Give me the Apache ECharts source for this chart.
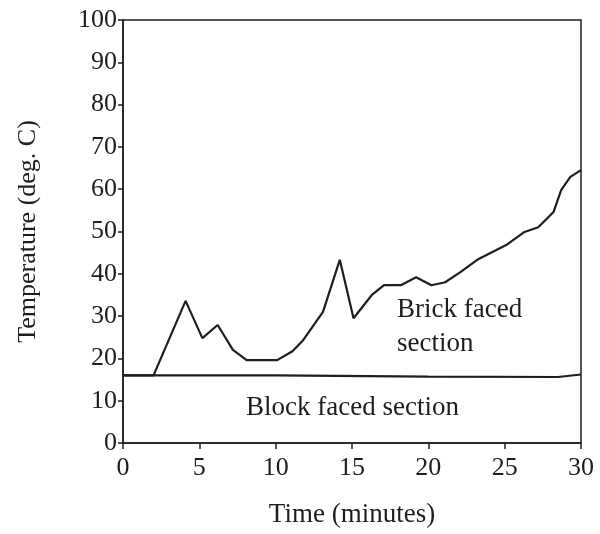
<!DOCTYPE html>
<html>
<head>
<meta charset="utf-8">
<script src="https://cdn.jsdelivr.net/npm/echarts@6/dist/echarts.min.js"></script>
<style>
  html, body { margin: 0; padding: 0; background: #fff; }
  #chart { width: 600px; height: 534px; }
</style>
</head>
<body>
<div id="chart"></div>
<script>
// brick faced section (minutes, deg. C)
const brickTime = [0, 2, 4.1, 5.2, 6.2, 7.2, 8.1, 10.1, 11.1, 11.8, 13.1, 14.2, 15.1, 16.3, 17.1, 18.2, 19.2, 20.2, 21.1, 22.1, 23.2, 25.1, 26.3, 27.2, 28.2, 28.7, 29.3, 30]
const brickTemp = [16, 16, 33.6, 24.8, 27.9, 22, 19.6, 19.6, 21.7, 24.3, 31, 43.3, 29.5, 35, 37.3, 37.3, 39.2, 37.3, 38, 40.4, 43.3, 46.8, 49.9, 51, 54.6, 59.8, 62.9, 64.5]
// block faced section
const blockTime = [0, 10, 20, 28.5, 30]
const blockTemp = [16, 16, 15.7, 15.6, 16.2]
const yTicks = [0, 10, 20, 30, 40, 50, 60, 70, 80, 90, 100]
const xTicks = [0, 5, 10, 15, 20, 25, 30]

const zip = (xs, ys) => xs.map((x, i) => [x, ys[i]])

const font = "Liberation Serif, DejaVu Serif, serif"
const ink = "#1e1e1e"

const chart = echarts.init(document.getElementById("chart"))

const option = {
  animation: false,
  backgroundColor: "#fff",
  grid: {
    left: 123,
    right: 19,
    top: 20,
    bottom: 91,
    show: true,
    borderColor: ink,
    borderWidth: 1.5,
  },
  xAxis: {
    type: "value",
    min: xTicks[0],
    max: xTicks[xTicks.length - 1],
    interval: 5,
    name: "Time (minutes)",
    nameLocation: "middle",
    nameGap: 58,
    nameTextStyle: { fontFamily: font, fontSize: 27, color: ink },
    axisLine: { lineStyle: { color: ink, width: 1.5 } },
    axisTick: { lineStyle: { color: ink, width: 1.5 }, length: 6 },
    axisLabel: { fontFamily: font, fontSize: 26, color: ink, margin: 12 },
    splitLine: { show: false },
  },
  yAxis: {
    type: "value",
    min: yTicks[0],
    max: yTicks[yTicks.length - 1],
    interval: 10,
    name: "Temperature (deg. C)",
    nameLocation: "middle",
    nameGap: 82,
    nameTextStyle: { fontFamily: font, fontSize: 26, color: ink },
    axisLine: { lineStyle: { color: ink, width: 1.5 } },
    axisTick: { lineStyle: { color: ink, width: 1.5 }, length: 5 },
    axisLabel: { fontFamily: font, fontSize: 26, color: ink, margin: 6 },
    splitLine: { show: false },
  },
  series: [
    {
      name: "Brick faced section",
      type: "line",
      data: zip(brickTime, brickTemp),
      symbol: "none",
      lineStyle: { color: ink, width: 2.2 },
    },
    {
      name: "Block faced section",
      type: "line",
      data: zip(blockTime, blockTemp),
      symbol: "none",
      lineStyle: { color: ink, width: 2.2 },
    },
  ],
  graphic: [
    {
      type: "text",
      left: 397,
      top: 293,
      style: {
        text: "Brick faced\nsection",
        font: "27px " + font,
        lineHeight: 34,
        fill: ink,
      },
    },
    {
      type: "text",
      left: 246,
      top: 394,
      style: {
        text: "Block faced section",
        font: "27px " + font,
        fill: ink,
      },
    },
  ],
}

chart.setOption(option)
window.addEventListener("resize", () => {
  chart.resize()
})
</script>
</body>
</html>
